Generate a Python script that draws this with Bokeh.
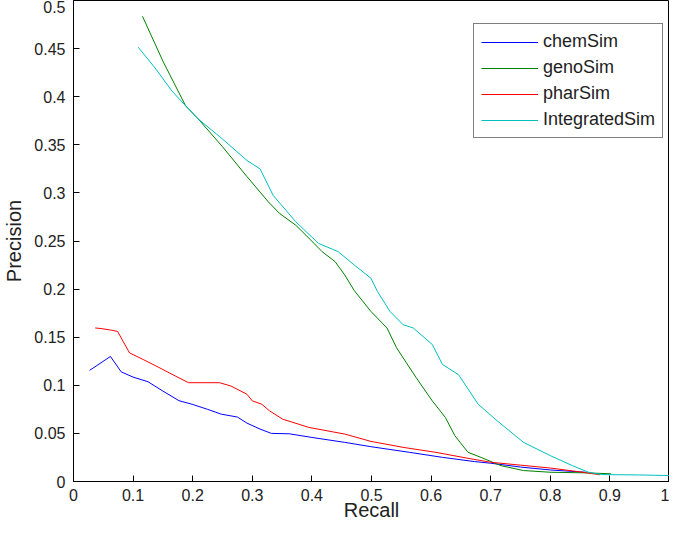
from bokeh.plotting import figure
from bokeh.models import FixedTicker, Range1d
from bokeh.embed import file_html
from bokeh.resources import INLINE

# ---- data ----
chem_x = [0.027, 0.062, 0.080, 0.100, 0.125, 0.150, 0.177, 0.199, 0.225, 0.248, 0.275, 0.291,
          0.313, 0.332, 0.362, 0.400, 0.455, 0.499, 0.564, 0.619, 0.673, 0.700, 0.750, 0.800, 0.859]
chem_y = [0.1155, 0.130, 0.114, 0.1085, 0.1037, 0.094, 0.084, 0.0803, 0.075, 0.070, 0.067, 0.0607,
          0.0545, 0.050, 0.0496, 0.0458, 0.0407, 0.0362, 0.0303, 0.0251, 0.0207, 0.019, 0.015, 0.012, 0.0096]

geno_x = [0.1157, 0.150, 0.188, 0.2095, 0.250, 0.291, 0.327, 0.346, 0.373, 0.390, 0.417, 0.439,
          0.455, 0.471, 0.499, 0.526, 0.542, 0.575, 0.602, 0.624, 0.640, 0.662, 0.684, 0.717,
          0.755, 0.800, 0.859, 0.902]
geno_y = [0.4836, 0.437, 0.3906, 0.3767, 0.348, 0.317, 0.2906, 0.2785, 0.2664, 0.256, 0.239, 0.2285,
          0.2148, 0.1985, 0.1768, 0.1596, 0.139, 0.1079, 0.0838, 0.0665, 0.0475, 0.0303, 0.025, 0.0165,
          0.0114, 0.0096, 0.009, 0.008]

phar_x = [0.0365, 0.046, 0.062, 0.074, 0.094, 0.117, 0.145, 0.171, 0.193, 0.245, 0.264, 0.291,
          0.300, 0.316, 0.329, 0.351, 0.395, 0.455, 0.499, 0.553, 0.608, 0.662, 0.700, 0.750,
          0.800, 0.850, 0.883]
phar_y = [0.1596, 0.159, 0.1575, 0.156, 0.1337, 0.1268, 0.118, 0.1096, 0.1027, 0.1027, 0.0993, 0.0907,
          0.0838, 0.0803, 0.0734, 0.0648, 0.0562, 0.0493, 0.0417, 0.0355, 0.0303, 0.0241, 0.020, 0.017,
          0.014, 0.010, 0.007]

integ_x = [0.1085, 0.1386, 0.165, 0.188, 0.2095, 0.250, 0.291, 0.313, 0.335, 0.373, 0.411, 0.444,
           0.471, 0.499, 0.510, 0.531, 0.553, 0.570, 0.602, 0.619, 0.646, 0.679, 0.711, 0.755,
           0.800, 0.837, 0.864, 0.886, 0.950, 1.000]
integ_y = [0.4515, 0.4285, 0.406, 0.3906, 0.3767, 0.356, 0.3337, 0.325, 0.2974, 0.270, 0.2475, 0.239,
           0.2251, 0.2113, 0.1975, 0.1768, 0.163, 0.1596, 0.1424, 0.1217, 0.111, 0.0803, 0.063, 0.0407,
           0.0269, 0.0165, 0.0096, 0.0072, 0.0068, 0.0062]

series_names = ["chemSim", "genoSim", "pharSim", "IntegratedSim"]
series_colors = ["#0000ff", "#008000", "#ff0000", "#00bfbf"]

x_ticks = [0, 0.1, 0.2, 0.3, 0.4, 0.5, 0.6, 0.7, 0.8, 0.9, 1]
y_ticks = [0, 0.05, 0.1, 0.15, 0.2, 0.25, 0.3, 0.35, 0.4, 0.45, 0.5]

FONT = "Liberation Sans"

p = figure(width=669, height=523, output_backend="svg", toolbar_location=None,
           x_range=Range1d(0, 1), y_range=Range1d(0, 0.5),
           min_border_left=40, min_border_right=0, min_border_top=0, min_border_bottom=0)
p.background_fill_color = "white"
p.border_fill_color = "white"
p.outline_line_color = "black"
p.outline_line_width = 1
p.xgrid.visible = False
p.ygrid.visible = False

for ax, ticks in ((p.xaxis[0], x_ticks), (p.yaxis[0], y_ticks)):
    ax.ticker = FixedTicker(ticks=ticks)
    ax.major_tick_in = 6
    ax.major_tick_out = 0
    ax.minor_tick_line_color = None
    ax.axis_line_color = "black"
    ax.major_tick_line_color = "black"
    ax.major_label_text_font = FONT
    ax.major_label_text_font_size = "16px"
    ax.major_label_text_color = "#222222"
    ax.axis_label_text_font = FONT
    ax.axis_label_text_font_size = "20px"
    ax.axis_label_text_font_style = "normal"
    ax.axis_label_text_color = "#222222"

p.xaxis[0].axis_label = "Recall"
p.yaxis[0].axis_label = "Precision"
p.xaxis[0].major_label_standoff = 7
p.yaxis[0].major_label_standoff = 8
p.xaxis[0].axis_label_standoff = -5
p.yaxis[0].axis_label_standoff = 6
p.xaxis[0].major_label_overrides = {0: "0", 1: "1", 0.5: "0.5"}
p.yaxis[0].major_label_overrides = {0: "0", 0.5: "0.5", 0.1: "0.1", 0.2: "0.2", 0.3: "0.3", 0.4: "0.4"}

for xs, ys, c, n in ((chem_x, chem_y, series_colors[0], series_names[0]),
                     (geno_x, geno_y, series_colors[1], series_names[1]),
                     (phar_x, phar_y, series_colors[2], series_names[2]),
                     (integ_x, integ_y, series_colors[3], series_names[3])):
    p.line(xs, ys, line_color=c, line_width=1, legend_label=n)

legend = p.legend[0]
legend.location = (400, 343)
legend.margin = 0
legend.border_line_color = "black"
legend.border_line_width = 1
legend.background_fill_color = "white"
legend.background_fill_alpha = 1
legend.label_text_font = FONT
legend.label_text_font_size = "18px"
legend.label_text_color = "#222222"
legend.glyph_width = 57
legend.glyph_height = 20
legend.label_height = 20
legend.label_standoff = 5
legend.spacing = 5
legend.padding = 7

open("out.html", "w").write(file_html(p, INLINE))
